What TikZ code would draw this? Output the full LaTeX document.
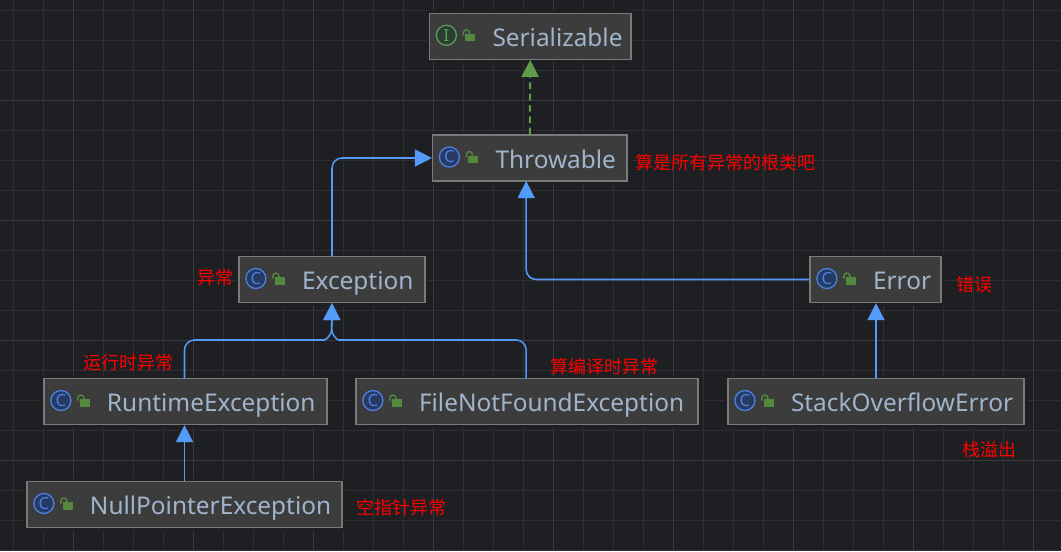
\documentclass[tikz,border=0pt]{standalone}
\usepackage{fontspec}
\setmainfont{Noto Sans}
\newfontfamily\cjk{Noto Sans CJK SC}
\usetikzlibrary{arrows.meta,calc}

\definecolor{canvasbg}{HTML}{1E1F22}
\definecolor{gridminor}{HTML}{2E2F31}
\definecolor{gridmajor}{HTML}{393A3B}
\definecolor{boxfill}{HTML}{3C3C3C}
\definecolor{boxline}{HTML}{7A7A7A}
\definecolor{nametext}{HTML}{A0B4CC}
\definecolor{extendblue}{HTML}{549AF8}
\definecolor{implgreen}{HTML}{5F9A4D}
\definecolor{lockgreen}{HTML}{53893F}
\definecolor{iconblue}{HTML}{4A80E0}
\definecolor{iconbluefill}{HTML}{263A63}
\definecolor{icongreen}{HTML}{5A9A5A}
\definecolor{icongreenfill}{HTML}{2A3D2E}

\tikzset{
  classbox/.style={draw=boxline, fill=boxfill, line width=0.9pt,
    preaction={draw=canvasbg, line width=4.5pt},
    text=nametext, font=\fontsize{18.3}{20}\selectfont,
    text width=#1*0.75pt, inner xsep=0pt, inner ysep=0pt, align=left,
    minimum height=34.5pt, text height=15.4pt, text depth=0.2pt,
    execute at begin node={\hspace*{47.25pt}}},
  classicon/.style={circle, draw=iconblue, fill=iconbluefill, line width=1pt,
    minimum size=15pt, inner sep=0pt, text=iconblue, font=\fontsize{12.5}{13}\selectfont},
  ifaceicon/.style={classicon, draw=icongreen, fill=icongreenfill, text=icongreen},
  extendline/.style={->, draw=extendblue, line width=1.15pt},
  implline/.style={->, draw=implgreen, line width=1.5pt, dash pattern=on 5pt off 3.5pt},
  note/.style={text=red, font=\cjk\fontsize{13.5}{14}\selectfont, inner sep=0pt},
}

% small open padlock next to the icon
\newcommand{\padlock}[1]{
  \fill[lockgreen] ($(#1.west)+(36.5,-2.5)$) rectangle ++(10,7.5);
  \draw[lockgreen, line width=1pt] ($(#1.west)+(34.5,-1)$) -- ++(0,-2.5) arc (180:360:3) -- ++(0,1);
}

\begin{document}
\begin{tikzpicture}[x=0.75pt, y=-0.75pt, >={Triangle[width=12.75pt,length=12.75pt]}]
  \useasboundingbox (0,0) rectangle (1061,551);
  \fill[canvasbg] (0,0) rectangle (1061,551);

  % grid
  \foreach \gx in {13,43,...,1033}
    \draw[gridminor, line width=0.75pt] (\gx,0) -- (\gx,551);
  \foreach \gy in {10,40,...,550}
    \draw[gridminor, line width=0.75pt] (0,\gy) -- (1061,\gy);
  \foreach \gx in {73,193,...,1033}
    \draw[gridmajor, line width=0.75pt] (\gx,0) -- (\gx,551);
  \foreach \gy in {100,220,340,460}
    \draw[gridmajor, line width=0.75pt] (0,\gy) -- (1061,\gy);

  % classes
  \node[classbox=201.5] (serial) at (530.25,36.25) {Serializable};
  \node[classbox=194.5] (throwable) at (529.75,158) {Throwable};
  \node[classbox=186] (exception) at (332,279.5) {Exception};
  \node[classbox=131] (error) at (875.5,279.5) {Error};
  \node[classbox=283] (runtime) at (185.5,401.5) {RuntimeException};
  \node[classbox=342] (filenf) at (527,401.5) {FileNotFoundException};
  \node[classbox=296] (stackover) at (876,401.5) {StackOverflowError};
  \node[classbox=315] (nullptr) at (184.5,504.5) {NullPointerException};

  % icons
  \node[ifaceicon] (serialicon) at ($(serial.west)+(17.5,-1)$) {I};
  \foreach \n in {throwable,exception,error,runtime,filenf,stackover,nullptr}
    \node[classicon] (\n icon) at ($(\n.west)+(17.5,-1)$) {C};
  \foreach \n in {serial,throwable,exception,error,runtime,filenf,stackover,nullptr}
    \padlock{\n};

  % free ends
  \coordinate (errorend) at (526.2,181);
  \coordinate (rtstart) at (184.5,378);
  \coordinate (fnstart) at (526.2,378);
  \coordinate (mergeleft) at (314,340);
  \coordinate (mergeright) at (349,340);
  \coordinate (mergeup) at (331.7,329);

  % connectors
  \draw[implline] (throwable.north) -- (serial.south);
  \draw[extendline, rounded corners=7.5pt] (exception.north) |- (throwable.west);
  \draw[extendline, rounded corners=7.5pt] (error.west) -| (errorend);
  \draw[extendline] (stackover.north) -- (stackover.north |- error.south);
  \draw[extendline] (nullptr.north) -- (nullptr.north |- runtime.south);
  \draw[extendline, rounded corners=7.5pt] (rtstart) |- (mergeleft) [sharp corners]
    .. controls ($(mergeleft)+(12,0)$) and ($(mergeup)+(0,6)$) .. (mergeup) -- (exception.south);
  \draw[extendline, rounded corners=7.5pt] (fnstart) |- (mergeright) [sharp corners]
    .. controls ($(mergeright)+(-12,0)$) and ($(mergeup)+(0,6)$) .. (mergeup) -- (exception.south);

  % notes
  \node[note] (rootnote) at (725,163) {算是所有异常的根类吧};
  \node[note] (exnote) at (215,277.5) {异常};
  \node[note] (rtnote) at (128,362.5) {运行时异常};
  \node[note] (fnnote) at (604,367) {算编译时异常};
  \node[note] (errnote) at (974,285) {错误};
  \node[note] (sonote) at (989,450) {栈溢出};
  \node[note] (npnote) at (401.5,508) {空指针异常};
\end{tikzpicture}
\end{document}
